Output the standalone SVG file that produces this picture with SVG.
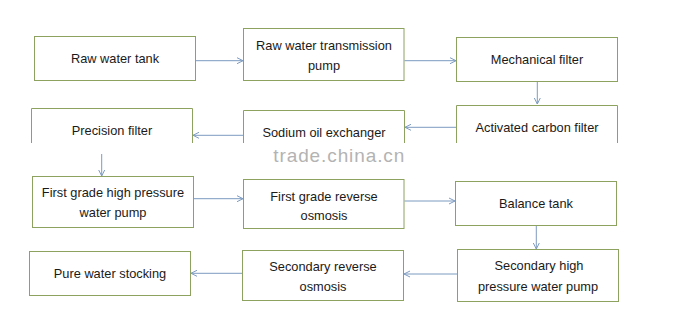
<svg xmlns="http://www.w3.org/2000/svg" width="676" height="327" viewBox="0 0 676 327">
<style>
.box{fill:#fff;stroke:#8ca25e;stroke-width:1}
.open{fill:none;stroke:#8ca25e;stroke-width:1}
.t{font-family:"Liberation Sans",Arial,sans-serif;font-size:12.8px;fill:#1a1a1a;text-anchor:middle}
.c line{stroke:#7d9bc1;stroke-width:1;marker-end:url(#ah)}
.wm{font-family:"Liberation Sans",Arial,sans-serif;font-size:19px;fill:#b3b3b3}
</style>
<defs>
<marker id="ah" viewBox="0 0 8 8" refX="7" refY="4" markerWidth="8" markerHeight="8" markerUnits="userSpaceOnUse" orient="auto">
<path d="M1,1 L7,4 L1,7" fill="none" stroke="#7d9bc1" stroke-width="1"/>
</marker>
</defs>
<rect width="676" height="327" fill="#fff"/>
<g id="n1"><rect class="box" x="34.5" y="36.5" width="161" height="44"/><text class="t" x="115" y="62.5">Raw water tank</text></g>
<g id="n2"><rect class="box" x="243.5" y="28.5" width="160.5" height="52"/><text class="t" x="324" y="49.5">Raw water transmission</text><text class="t" x="324" y="70">pump</text></g>
<g id="n3"><rect class="box" x="456.5" y="37.5" width="161" height="44"/><text class="t" x="537" y="64">Mechanical filter</text></g>
<g id="n4"><path class="open" d="M31.5,143 V108.5 H192.5 V143"/><text class="t" x="112" y="135">Precision filter</text></g>
<g id="n5"><path class="open" d="M243.5,143 V110.5 H404.5 V143"/><text class="t" x="324" y="136.5">Sodium oil exchanger</text></g>
<g id="n6"><path class="open" d="M456.5,143 V105.5 H617.5 V143"/><text class="t" x="537" y="131.5">Activated carbon filter</text></g>
<g id="n7"><rect class="box" x="32.5" y="176.5" width="161" height="51"/><text class="t" x="113" y="197.3">First grade high pressure</text><text class="t" x="113" y="217">water pump</text></g>
<g id="n8"><rect class="box" x="243.5" y="179.5" width="160.5" height="49"/><text class="t" x="324" y="200.5">First grade reverse</text><text class="t" x="324" y="220">osmosis</text></g>
<g id="n9"><rect class="box" x="455.5" y="181.5" width="161" height="44"/><text class="t" x="536" y="207.5">Balance tank</text></g>
<g id="n10"><rect class="box" x="29.5" y="251.5" width="161" height="44"/><text class="t" x="110" y="277.5">Pure water stocking</text></g>
<g id="n11"><rect class="box" x="242.5" y="250.5" width="161" height="50"/><text class="t" x="323" y="271">Secondary reverse</text><text class="t" x="323" y="291">osmosis</text></g>
<g id="n12"><rect class="box" x="457.5" y="249.5" width="161" height="52"/><text class="t" x="539" y="270">Secondary high</text><text class="t" x="538" y="290.5">pressure water pump</text></g>
<g class="c" id="connectors">
<line x1="196" y1="60.7" x2="243" y2="60.7"/>
<line x1="404.5" y1="60.7" x2="456" y2="60.7"/>
<line x1="537.3" y1="82" x2="537.3" y2="104"/>
<line x1="456" y1="127.3" x2="405" y2="127.3"/>
<line x1="243" y1="135.3" x2="193" y2="135.3"/>
<line x1="101.7" y1="154" x2="101.7" y2="176"/>
<line x1="194" y1="198.7" x2="243" y2="198.7"/>
<line x1="404.5" y1="201" x2="455" y2="201"/>
<line x1="536.3" y1="226" x2="536.3" y2="249"/>
<line x1="457" y1="274" x2="404" y2="274"/>
<line x1="242" y1="273.3" x2="191" y2="273.3"/>
</g>
<text class="wm" x="273.3" y="161.7" textLength="131" lengthAdjust="spacing">trade.china.cn</text>
</svg>
